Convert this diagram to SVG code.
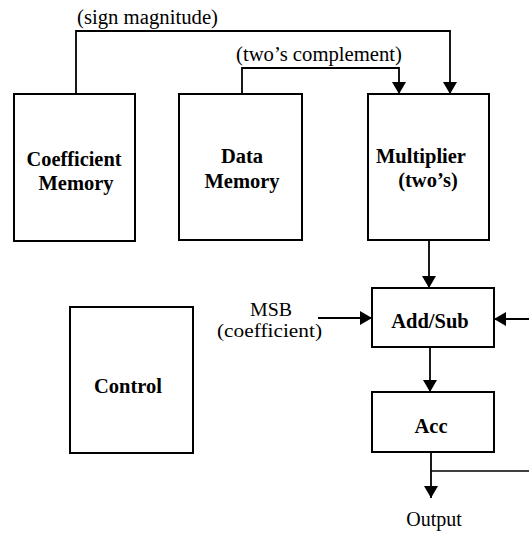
<svg xmlns="http://www.w3.org/2000/svg" width="529" height="533" viewBox="0 0 529 533">
  <style>
    .box { fill: #fff; stroke: #000; stroke-width: 2; }
    .wire { fill: none; stroke: #000; stroke-width: 1.8; }
    .thin { fill: none; stroke: #000; stroke-width: 1.4; }
    .lbl { font-size: 20px; fill: #000; }
    .side { font-size: 18px; fill: #000; }
    .bold { font-size: 20.5px; font-weight: bold; fill: #000; text-anchor: middle; }
  </style>
  <defs>
    <marker id="arrow" viewBox="0 0 12 14" refX="12" refY="7" markerWidth="12" markerHeight="14" markerUnits="userSpaceOnUse" orient="auto">
      <path d="M0,0 L12,7 L0,14 Z" fill="#000"/>
    </marker>
  </defs>

  <rect width="529" height="533" fill="#fff"/>

  <g id="connectors">
    <!-- coefficient memory to multiplier -->
    <path class="wire" d="M76,94 V31 H450 V94" marker-end="url(#arrow)"/>
    <!-- data memory to multiplier -->
    <path class="wire" d="M242,94 V68 H399 V94" marker-end="url(#arrow)"/>
    <!-- multiplier to add/sub -->
    <path class="wire" d="M429,240 V288" marker-end="url(#arrow)"/>
    <!-- MSB into add/sub -->
    <path class="wire" d="M318,318 H372" marker-end="url(#arrow)"/>
    <!-- feedback into add/sub -->
    <path class="wire" d="M529,319 H494" marker-end="url(#arrow)"/>
    <!-- add/sub to acc -->
    <path class="wire" d="M430,347 V392" marker-end="url(#arrow)"/>
    <!-- acc output -->
    <path class="wire" d="M431,452 V498" marker-end="url(#arrow)"/>
    <!-- feedback tap -->
    <path class="thin" d="M431,471 H529"/>
  </g>

  <g font-family="'Liberation Serif', 'DejaVu Serif', 'Times New Roman', serif">
    <g id="coefficient-memory">
      <rect class="box" x="14" y="94" width="121" height="147"/>
      <text class="bold" x="74" y="166" textLength="95" lengthAdjust="spacingAndGlyphs">Coefficient</text>
      <text class="bold" x="76" y="190">Memory</text>
    </g>

    <g id="data-memory">
      <rect class="box" x="179" y="94" width="123" height="146"/>
      <text class="bold" x="242" y="163">Data</text>
      <text class="bold" x="242" y="188">Memory</text>
    </g>

    <g id="multiplier">
      <rect class="box" x="368" y="94" width="121" height="146"/>
      <text class="bold" x="421" y="163">Multiplier</text>
      <text class="bold" x="428" y="187">(two’s)</text>
    </g>

    <g id="add-sub">
      <rect class="box" x="372" y="288" width="122" height="59"/>
      <text class="bold" x="430" y="328">Add/Sub</text>
    </g>

    <g id="acc">
      <rect class="box" x="372" y="392" width="122" height="60"/>
      <text class="bold" x="431" y="433">Acc</text>
    </g>

    <g id="control">
      <rect class="box" x="70" y="307" width="123" height="146"/>
      <text class="bold" x="128" y="393">Control</text>
    </g>

    <g id="labels">
      <text class="lbl" x="77" y="24" textLength="141" lengthAdjust="spacingAndGlyphs">(sign magnitude)</text>
      <text class="lbl" x="236" y="61" textLength="166" lengthAdjust="spacingAndGlyphs">(two’s complement)</text>
      <text class="side" x="250" y="316" textLength="42" lengthAdjust="spacingAndGlyphs">MSB</text>
      <text class="side" x="217" y="337" textLength="105" lengthAdjust="spacingAndGlyphs">(coefficient)</text>
      <text class="lbl" x="434" y="526" text-anchor="middle">Output</text>
    </g>
  </g>
</svg>
